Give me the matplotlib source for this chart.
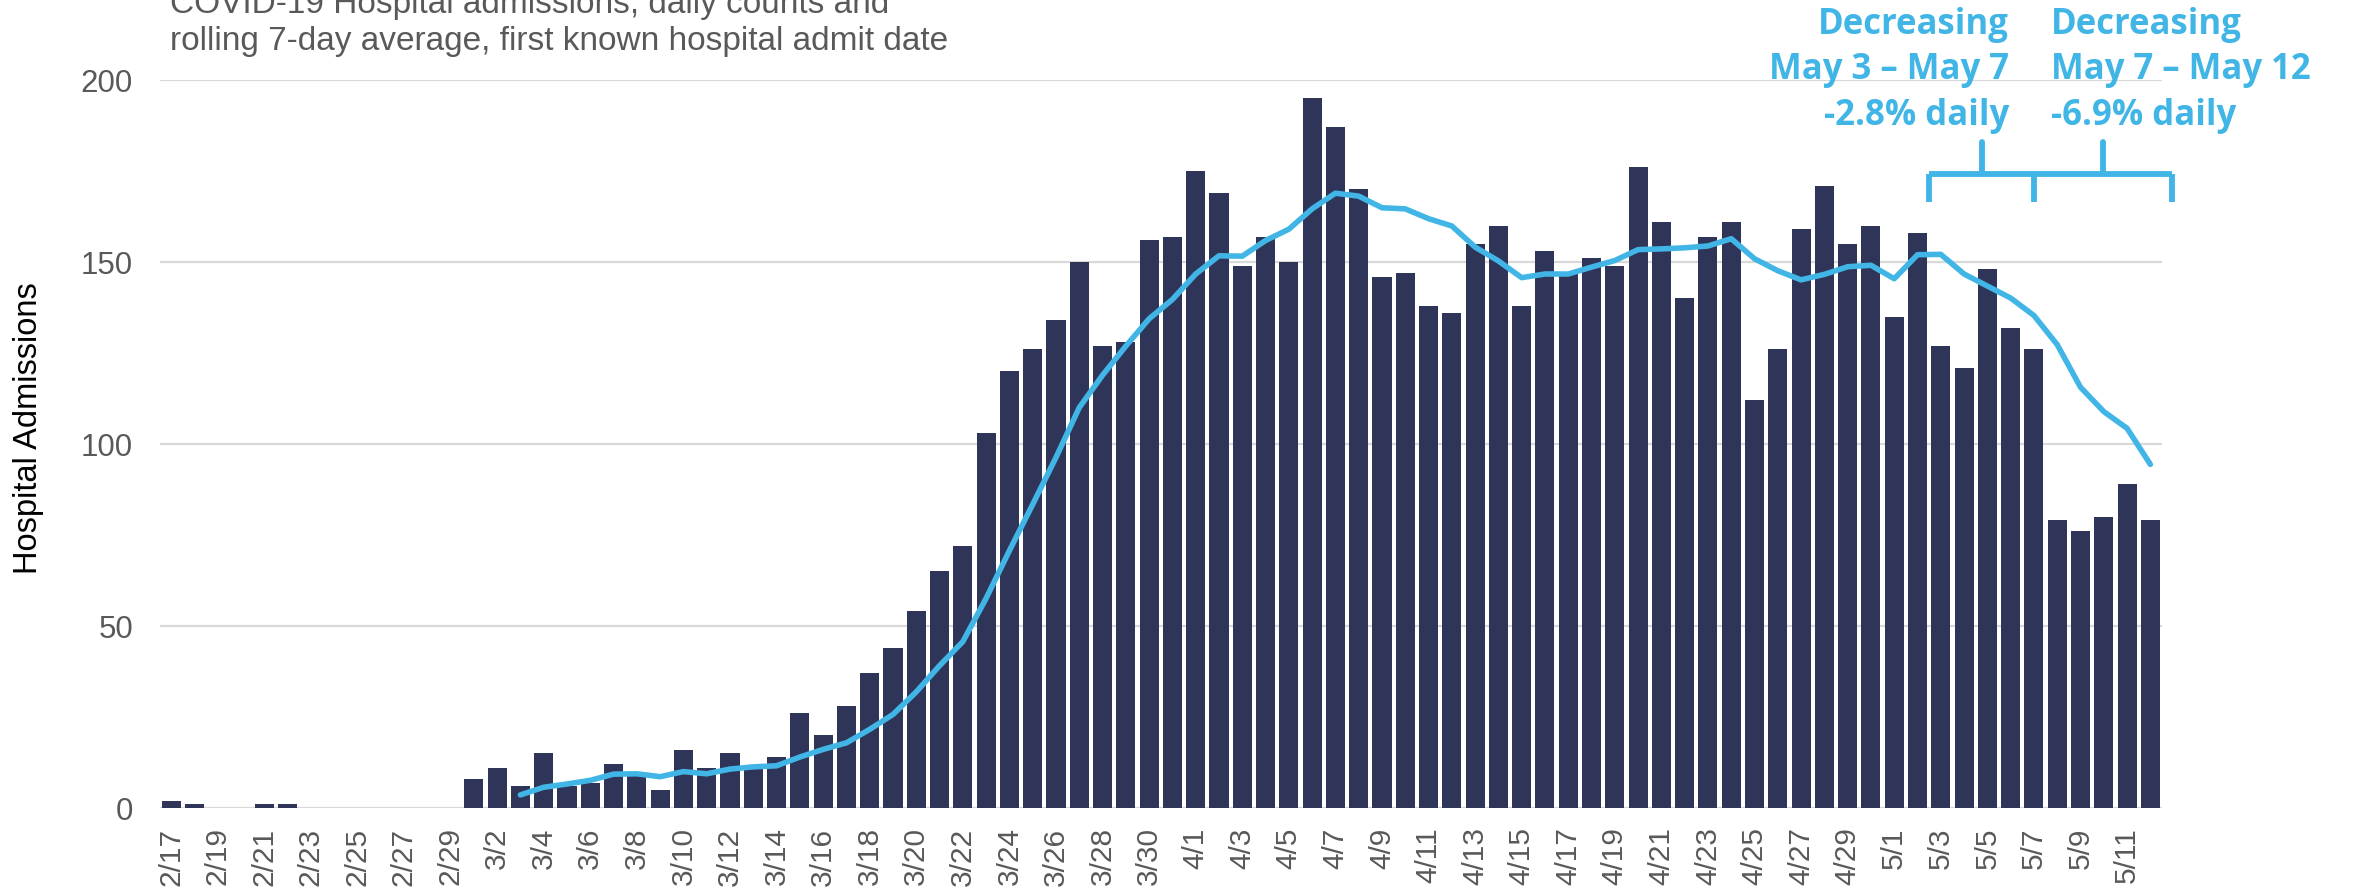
import matplotlib.pyplot as plt
import numpy as np
import pandas as pd

# daily hospital admissions, 2/17 .. 5/12 (2020)
days = pd.date_range("2020-02-17", "2020-05-12", freq="D")
day_labels = [f"{d.month}/{d.day}" for d in days]

admissions = [
    2, 1, 0, 0, 1, 1, 0, 0, 0, 0, 0, 0, 0,                      # 2/17 - 2/29
    8, 11, 6, 15, 6, 7, 12, 9, 5, 16, 11, 15, 11, 14, 26, 20,   # 3/1 - 3/16
    28, 37, 44, 54, 65, 72, 103, 120, 126, 134, 150, 127, 128,  # 3/17 - 3/29
    156, 157,                                                   # 3/30 - 3/31
    175, 169, 149, 157, 150, 195, 187, 170, 146, 147, 138, 136, # 4/1 - 4/12
    155, 160, 138, 153, 147, 151, 149, 176, 161, 140, 157, 161, # 4/13 - 4/24
    112, 126, 159, 171, 155, 160,                               # 4/25 - 4/30
    135, 158, 127, 121, 148, 132, 126, 79, 76, 80, 89, 79,      # 5/1 - 5/12
]

# rolling 7-day average line, starts on 3/3
avg_start = "3/3"
avg7 = [
    3.6, 5.7, 6.6, 7.6, 9.3, 9.4, 8.6, 10.0, 9.4, 10.7, 11.3, 11.6,
    14.0, 16.1, 17.9, 21.6, 25.7, 31.9, 39.1, 45.7, 57.6, 70.7, 83.4,
    96.3, 110.0, 118.9, 126.9, 134.4, 139.7,
    146.7, 151.7, 151.6, 155.9, 159.0, 164.6, 168.9, 168.1, 164.9, 164.6,
    161.9, 159.9, 154.1, 150.3, 145.7, 146.7, 146.7, 148.6, 150.4, 153.4,
    153.6, 153.9, 154.4, 156.4, 150.9, 147.6, 145.1, 146.6, 148.7, 149.1,
    145.4, 152.0, 152.1, 146.7, 143.4, 140.1, 135.3, 127.3, 115.6, 108.9,
    104.3, 94.4,
]

title_lines = ["COVID-19 Hospital admissions, daily counts and",
               "rolling 7-day average, first known hospital admit date"]
note_left = ["Decreasing", "May 3 \u2013 May 7", "-2.8% daily"]
note_right = ["Decreasing", "May 7 \u2013 May 12", "-6.9% daily"]

bar_color = "#2E3558"
line_color = "#41B6E6"
grey = "#595959"

plt.rcParams["font.family"] = ["Liberation Sans", "DejaVu Sans"]

W, H = 2353, 893
fig = plt.figure(figsize=(W / 100, H / 100), dpi=100)
ax = fig.add_axes([159.5 / W, 1 - 808 / H, (2162 - 159.5) / W, (808 - 80) / H])

x = np.arange(len(admissions))
ax.bar(x, admissions, width=0.82, color=bar_color, zorder=2)

i0 = day_labels.index(avg_start)
ax.plot(np.arange(i0, i0 + len(avg7)), avg7, color=line_color, lw=4,
        solid_joinstyle="round", solid_capstyle="round", zorder=3)

ax.set_xlim(-0.5, len(admissions) - 0.5)
ax.set_ylim(0, 200)
ax.set_yticks([0, 50, 100, 150, 200])
ax.yaxis.grid(True, color="#D9D9D9", lw=1.6, zorder=0)
ax.set_axisbelow(True)
for s in ax.spines.values():
    s.set_visible(False)

ax.set_xticks(x[::2])
ax.set_xticklabels(day_labels[::2], rotation=90)
ax.tick_params(axis="x", length=0, pad=14, labelsize=21.5, labelcolor=grey)
ax.tick_params(axis="y", length=0, pad=19, labelsize=22.5, labelcolor=grey)

fig.text(29 / W, 1 - 428 / H, "Hospital Admissions", rotation=90,
         ha="center", va="center", fontsize=23.5, color="black")

fig.text(170 / W, 1 - 12.7 / H, title_lines[0], fontsize=24, color=grey,
         va="baseline")
fig.text(170 / W, 1 - 50 / H, title_lines[1], fontsize=24, color=grey,
         va="baseline")

# annotation text
for k, base in enumerate([34, 79, 125]):
    fig.text(2009 / W, 1 - base / H, note_left[k], ha="right", va="baseline",
             fontsize=25, fontweight="bold", color=line_color,
             family=["Open Sans", "DejaVu Sans"])
    fig.text(2051 / W, 1 - base / H, note_right[k], ha="left", va="baseline",
             fontsize=25, fontweight="bold", color=line_color,
             family=["Open Sans", "DejaVu Sans"])

# bracket over May 3 - May 12
bx0, bmid, bx1 = 75.5, 80, 85.95
by, bdown, bup = 174.3, 166.5, 183
kw = dict(color=line_color, lw=4.2, clip_on=False, zorder=4,
          solid_capstyle="butt")
ax.plot([bx0, bx1], [by, by], **kw)
for xx in (bx0, bmid, bx1):
    ax.plot([xx, xx], [by, bdown], **kw)
for xx in ((bx0 + bmid) / 2, (bmid + bx1) / 2):
    ax.plot([xx, xx], [by, bup], color=line_color, lw=4.2, clip_on=False,
            zorder=4, solid_capstyle="round")

fig.savefig("out.png", dpi=100)
